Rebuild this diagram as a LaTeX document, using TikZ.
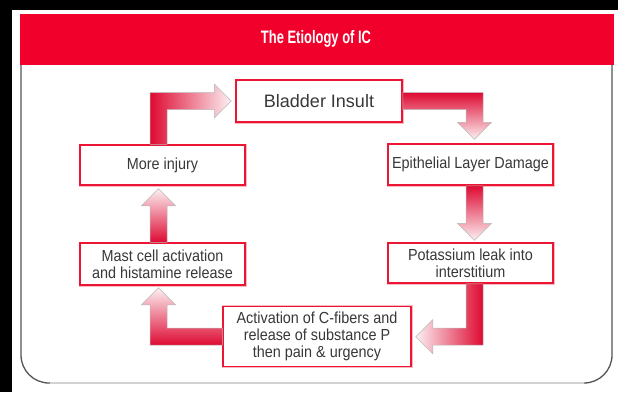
\documentclass[tikz,border=0pt]{standalone}
\usepackage{fontspec}
\setmainfont{Liberation Sans}[FakeStretch=0.9]
\newfontfamily\headfont{Liberation Sans}[FakeStretch=0.72]
\newfontfamily\insultfont{Liberation Sans}
\usepackage{tikz}
\usetikzlibrary{calc}
\definecolor{icred}{HTML}{F0002A}
\definecolor{icbox}{HTML}{EC1634}
\definecolor{icdark}{HTML}{DE0A32}
\definecolor{icpale}{HTML}{FCF0F2}
\definecolor{ictext}{HTML}{383838}
\definecolor{icframe}{HTML}{555555}

\begin{document}
\begin{tikzpicture}[x=1pt,y=-1pt]

\tikzset{
box/.style={
    draw=icbox,
    line width=1.5pt,
    preaction={draw=icbox!30, line width=3pt},
    fill=white,
    minimum width=165pt,
    minimum height=41pt,
    inner sep=0pt,
    align=center,
    text=ictext,
    font=\fontsize{16}{17}\selectfont
},
fat/.style={draw=gray!55, line width=0.5pt}
}

% page, panel and header
\fill[black] (0,0) rectangle (618,392);
\fill[white] (12,10) rectangle (618,392);
\fill[icred] (20,14) rectangle (614,65);
\node[text=white, font=\headfont\bfseries\fontsize{18}{18}\selectfont] (title) at (316,39) {The Etiology of IC};
\draw[icframe, line width=1.3pt, rounded corners=28pt] (21,65) -- (21,383) -- (200,383);
\draw[icframe, line width=1.3pt, rounded corners=28pt] (420,383) -- (612,383) -- (612,65);
\draw[gray!35, line width=2pt] (50,383) -- (584,383);

\node[box, minimum width=166pt, minimum height=42pt, font=\insultfont\fontsize{18}{18}\selectfont] (insult) at (319,101) {Bladder Insult};
\node[box] (epith) at (470.5,164.5) {Epithelial Layer Damage};
\node[box, minimum height=40pt] (potass) at (470.5,263) {Potassium leak into\\interstitium};
\node[box, minimum width=188pt, minimum height=60pt] (cfib) at (317,336.7) {Activation of C-fibers and\\release of substance P\\then pain \& urgency};
\node[box, minimum height=42pt] (mast) at (162.5,264) {Mast cell activation\\and histamine release};
\node[box, minimum height=40pt] (more) at (162.5,165) {More injury};

% fat arrows round the cycle
\path[fat, left color=icdark, middle color=icdark!55!white, right color=icpale]
    ($(more.north)+(-12.5,0)$) |- ($(insult.west)+(-21,-8.5)$) -- ++(0,-8.5)
    -- ($(insult.west)+(-4,0)$) -- ++(-17,17) -- ++(0,-8.5) -| ($(more.north)+(4.5,0)$) -- cycle;
\path[fat, top color=icdark, middle color=icdark!55!white, bottom color=icpale]
    ($(insult.east)+(0,-8.5)$) -| ($(epith.north)+(12.5,-21)$) -- ++(8.5,0)
    -- ($(epith.north)+(4,-4)$) -- ++(-17,-17) -- ++(8.5,0) |- ($(insult.east)+(0,8.5)$) -- cycle;
\path[fat, top color=icdark, bottom color=icpale]
    ($(epith.south)+(-4.5,0)$) -- ($(potass.north)+(-4.5,-19)$) -- ++(-8.5,0)
    -- ($(potass.north)+(4,-2)$) -- ++(17,-17) -- ++(-8.5,0) -- ($(epith.south)+(12.5,0)$) -- cycle;
\path[fat, right color=icdark, middle color=icdark!55!white, left color=icpale]
    ($(potass.south)+(12.5,0)$) |- ($(cfib.east)+(21,8.5)$) -- ++(0,8.5)
    -- ($(cfib.east)+(4,0)$) -- ++(17,-17) -- ++(0,8.5) -| ($(potass.south)+(-4.5,0)$) -- cycle;
\path[fat, bottom color=icdark, middle color=icdark!55!white, top color=icpale]
    ($(cfib.west)+(0,8.5)$) -| ($(mast.south)+(-12.5,19)$) -- ++(-8.5,0)
    -- ($(mast.south)+(-4,2)$) -- ++(17,17) -- ++(-8.5,0) |- ($(cfib.west)+(0,-8.5)$) -- cycle;
\path[fat, bottom color=icdark, top color=icpale]
    ($(mast.north)+(-12.5,0)$) -- ($(more.south)+(-12.5,20)$) -- ++(-8.5,0)
    -- ($(more.south)+(-4,3)$) -- ++(17,17) -- ++(-8.5,0) -- ($(mast.north)+(4.5,0)$) -- cycle;

\end{tikzpicture}
\end{document}
